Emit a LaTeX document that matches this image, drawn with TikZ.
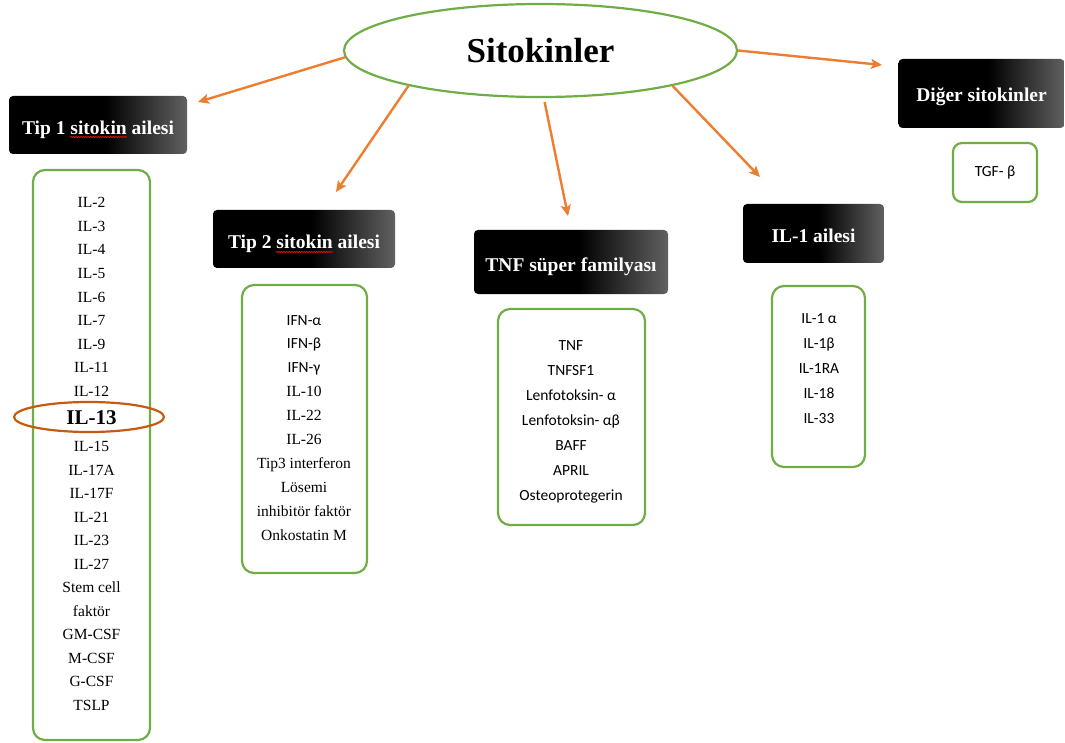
\documentclass[tikz,border=0pt]{standalone}
\usepackage{fontspec}
\setmainfont{Liberation Serif}
\newfontfamily\calibri{Carlito}
\usetikzlibrary{arrows.meta,shapes.geometric,decorations.pathmorphing}

\definecolor{yesil}{HTML}{70AD47}
\definecolor{turuncu}{HTML}{ED7D31}
\definecolor{kahve}{HTML}{C55A11}
\pgfdeclarehorizontalshading{siyahgri}{100bp}{color(0bp)=(black); color(25bp)=(black); color(52bp)=(black); color(75bp)=(black!62); color(100bp)=(black!62)}

\begin{document}
\begin{tikzpicture}[x=1pt, y=-1pt, >={Stealth[length=11pt,width=10pt,inset=2.5pt]},
    baslik/.style={rectangle, rounded corners=4pt, shading=siyahgri, text=white, inner sep=0pt,
        font=\fontsize{19.5}{22}\selectfont\bfseries, text height=19pt, text depth=0pt},
    liste/.style={rectangle, draw=yesil, line width=2.2pt, rounded corners=12pt, inner sep=0pt},
    madde/.style={anchor=base, inner sep=0pt, font=\fontsize{15.5}{18}\selectfont},
    ok/.style={->, draw=turuncu, line width=2.4pt},
    imla/.style={red, line width=0.7pt, decorate, decoration={snake, amplitude=0.7pt, segment length=2.5pt}}]
    \useasboundingbox (0,0) rectangle (1065,743);

    % ana elips
    \node[ellipse, draw=yesil, line width=2.2pt, minimum width=393pt, minimum height=93pt, inner sep=0pt,
        font=\fontsize{35}{40}\selectfont\bfseries] (sito) at (540.5,50.5) {Sitokinler};

    % aile basliklari
    \node[baslik, minimum width=178pt, minimum height=58pt] (tip1) at (98,125) {Tip 1 sitokin ailesi};
    \node[baslik, minimum width=182pt, minimum height=58pt] (tip2) at (304,239) {Tip 2 sitokin ailesi};
    \node[baslik, minimum width=194pt, minimum height=64pt] (tnf) at (571,262) {TNF süper familyası};
    \node[baslik, minimum width=141pt, minimum height=59pt] (il1) at (813.5,233.5) {IL-1 ailesi};
    \node[baslik, minimum width=166pt, minimum height=69pt, text height=16pt] (diger) at (981.5,93.5) {Diğer sitokinler};

    % imla alti cizgileri
    \draw[imla] (70,137) -- (127,137);
    \draw[imla] (276,252) -- (333,252);

    % oklarin uclari
    \coordinate (u1) at (198,102);
    \coordinate (u2) at (336,192);
    \coordinate (u3) at (568,216);
    \coordinate (u4) at (760,177);
    \coordinate (u5) at (882,65);

    % elipsten cikan oklar
    \draw[ok] (sito.182) -- (u1);
    \draw[ok] (sito.195) -- (u2);
    \draw[ok, shorten <=4pt] (sito.274) -- (u3);
    \draw[ok] (sito.345) -- (u4);
    \draw[ok] (sito.east) -- (u5);

    % liste kutulari
    \node[liste, minimum width=117pt, minimum height=570pt] (l1) at (91.5,455) {};
    \node[liste, minimum width=125pt, minimum height=288pt] (l2) at (304.5,429) {};
    \node[liste, minimum width=147pt, minimum height=216pt] (l3) at (571.5,417) {};
    \node[liste, minimum width=93pt, minimum height=181pt] (l4) at (818.5,376.5) {};
    \node[liste, rounded corners=9pt, minimum width=84pt, minimum height=59pt,
        font=\calibri\fontsize{15.5}{18}\selectfont] (tgf) at (995,172.5) {TGF- β};

    % Tip 1 listesi
    \foreach \t [count=\i from 0] in {IL-2,IL-3,IL-4,IL-5,IL-6,IL-7,IL-9,IL-11,IL-12}
        \node[madde] (a\i) at (91.5,{208+23.5*\i}) {\t};
    \node[madde, font=\fontsize{21}{24}\selectfont\bfseries] (il13) at (91.5,424) {IL-13};
    \draw[kahve, line width=2.2pt] (il13.base) ++(-2.5,-7) ellipse (75pt and 15pt);
    \foreach \t [count=\i from 0] in {IL-15,IL-17A,IL-17F,IL-21,IL-23,IL-27,Stem cell,faktör,GM-CSF,M-CSF,G-CSF,TSLP}
        \node[madde] (b\i) at (91.5,{451.5+23.5*\i}) {\t};

    % Tip 2 listesi
    \foreach \t [count=\i from 0] in {IFN-α,IFN-β,IFN-γ}
        \node[madde, font=\calibri\fontsize{15.5}{18}\selectfont] (c\i) at (304,{325+23.9*\i}) {\t};
    \foreach \t [count=\i from 3] in {IL-10,IL-22,IL-26,Tip3 interferon,Lösemi,inhibitör faktör,Onkostatin M}
        \node[madde] (c\i) at (304,{325+23.9*\i}) {\t};

    % TNF listesi
    \foreach \t [count=\i from 0] in {TNF,TNFSF1,Lenfotoksin- α,Lenfotoksin- αβ,BAFF,APRIL,Osteoprotegerin}
        \node[madde, font=\calibri\fontsize{15.5}{18}\selectfont] (d\i) at (571,{350+25*\i}) {\t};

    % IL-1 listesi
    \foreach \t [count=\i from 0] in {IL-1 α,IL-1β,IL-1RA,IL-18,IL-33}
        \node[madde, font=\calibri\fontsize{15.5}{18}\selectfont] (e\i) at (819,{323+25*\i}) {\t};
\end{tikzpicture}
\end{document}
